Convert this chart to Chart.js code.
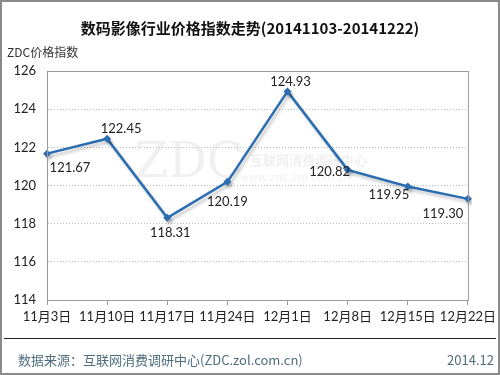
<!DOCTYPE html>
<html lang="zh">
<head>
<meta charset="UTF-8">
<title>数码影像行业价格指数走势</title>
<script src="https://cdn.jsdelivr.net/npm/chart.js"></script>
<style>
    html, body { margin: 0; padding: 0; background: #fff; }
    #wrap { position: relative; width: 500px; height: 375px; }
</style>
</head>
<body>
<div id="wrap"><canvas id="chart" width="500" height="375"></canvas></div>
<script>
    const weeks = ['11月3日', '11月10日', '11月17日', '11月24日', '12月1日', '12月8日', '12月15日', '12月22日'];
    const priceIndex = [121.67, 122.45, 118.31, 120.19, 124.93, 120.82, 119.95, 119.30];
    const yTicks = [114, 116, 118, 120, 122, 124, 126];

    // where each value label sits relative to its point
    const labelOffsets = [[23, 14], [14, -10], [3, 15], [0, 20], [3, -10], [-18, 2], [-19, 8], [-25, 15]];

    const FONT = 'Lato, "Noto Sans CJK SC", sans-serif';

    const decor = {
        id: 'decor',
        beforeDraw(chart) {
            const ctx = chart.ctx;
            ctx.save();
            ctx.fillStyle = '#fff';
            ctx.fillRect(0, 0, chart.width, chart.height);
            // faint watermark
            ctx.fillStyle = 'rgba(200,200,200,0.28)';
            ctx.font = '48px "DejaVu Serif", serif';
            ctx.textAlign = 'left';
            ctx.textBaseline = 'middle';
            ctx.fillText('ZDC', 135, 165);
            ctx.font = 'bold 13px "Noto Sans CJK SC", sans-serif';
            ctx.fillText('互联网消费调研中心', 250, 160);
            ctx.font = '11px "DejaVu Sans", sans-serif';
            ctx.fillText('www.zdc.zol.com.cn', 240, 178);
            ctx.restore();
        },
        beforeDatasetsDraw(chart) {
            const ctx = chart.ctx;
            ctx.save();
            ctx.shadowColor = 'rgba(0,0,0,0.22)';
            ctx.shadowOffsetX = 2;
            ctx.shadowOffsetY = 3;
            ctx.shadowBlur = 3;
        },
        afterDatasetsDraw(chart) {
            const ctx = chart.ctx;
            ctx.restore();
            const area = chart.chartArea;
            ctx.save();
            // plot frame
            ctx.strokeStyle = '#999';
            ctx.lineWidth = 1;
            ctx.strokeRect(area.left + 0.5, area.top + 0.5, area.right - area.left, area.bottom - area.top);

            // value labels
            const meta = chart.getDatasetMeta(0);
            ctx.fillStyle = '#222';
            ctx.font = '13px ' + FONT;
            ctx.textAlign = 'center';
            ctx.textBaseline = 'middle';
            meta.data.forEach((pt, i) => {
                const off = labelOffsets[i];
                ctx.fillText(priceIndex[i].toFixed(2), pt.x + off[0], pt.y + off[1]);
            });

            // title and axis name
            ctx.fillStyle = '#111';
            ctx.font = 'bold 15px "Noto Sans CJK SC", sans-serif';
            ctx.fillText('数码影像行业价格指数走势(20141103-20141222)', 250, 28);
            ctx.textAlign = 'left';
            ctx.fillStyle = '#333';
            ctx.font = '12px "Noto Sans CJK SC", sans-serif';
            ctx.fillText('ZDC价格指数', 7, 52);

            // footer
            ctx.strokeStyle = '#222';
            ctx.lineWidth = 1;
            ctx.beginPath();
            ctx.moveTo(4, 338.5);
            ctx.lineTo(496, 338.5);
            ctx.stroke();
            ctx.fillStyle = '#4f6e7e';
            ctx.font = '13px "Noto Sans CJK SC", sans-serif';
            ctx.fillText('数据来源：互联网消费调研中心(ZDC.zol.com.cn)', 18, 360);
            ctx.textAlign = 'right';
            ctx.fillText('2014.12', 494, 360);

            // outer border
            ctx.strokeStyle = '#8a8a8a';
            ctx.lineWidth = 2;
            ctx.strokeRect(1, 1, chart.width - 2, chart.height - 2);
            ctx.restore();
        }
    };

    new Chart(document.getElementById('chart'), {
        type: 'line',
        data: {
            labels: weeks,
            datasets: [{
                data: priceIndex,
                borderColor: '#2a6db0',
                backgroundColor: '#2a6db0',
                borderWidth: 2.5,
                pointStyle: 'rectRot',
                pointRadius: 4,
                pointBorderWidth: 0,
                tension: 0,
                fill: false
            }]
        },
        options: {
            responsive: false,
            animation: false,
            devicePixelRatio: 1,
            layout: { padding: { top: 71, right: 29, left: 0, bottom: 0 } },
            plugins: {
                legend: { display: false },
                tooltip: { enabled: false }
            },
            scales: {
                x: {
                    offset: false,
                    afterFit(scale) { scale.height = 75; },
                    grid: { drawOnChartArea: false, drawTicks: true, tickLength: 5, color: '#999' },
                    border: { display: true, color: '#999' },
                    ticks: {
                        color: '#222',
                        font: { family: FONT, size: 13 },
                        padding: 4,
                        maxRotation: 0,
                        autoSkip: false
                    }
                },
                y: {
                    min: 114,
                    max: 126,
                    afterFit(scale) { scale.width = 47; },
                    afterBuildTicks(scale) { scale.ticks = yTicks.map(v => ({ value: v })); },
                    grid: { drawTicks: false, color: '#bbb' },
                    border: { display: true, color: '#999', dash: [1, 2] },
                    ticks: {
                        color: '#222',
                        font: { family: FONT, size: 13 },
                        padding: 11
                    }
                }
            }
        },
        plugins: [decor]
    });
</script>
</body>
</html>
